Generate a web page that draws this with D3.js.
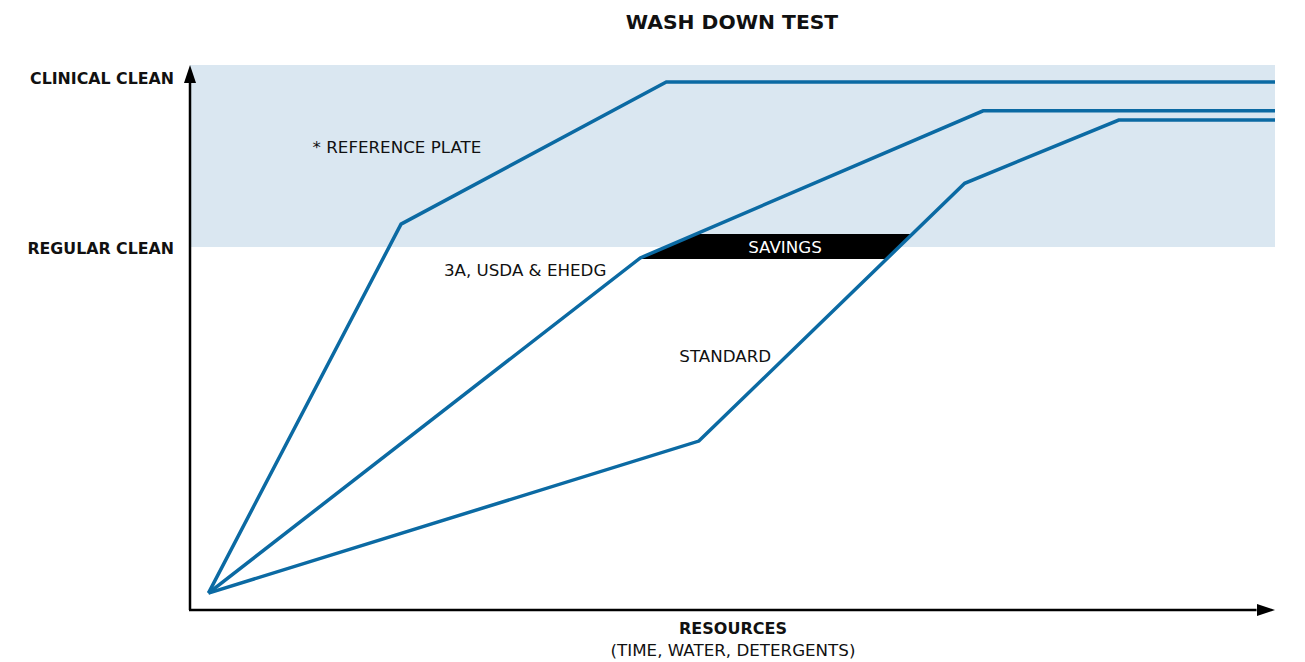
<!DOCTYPE html>
<html>
<head>
<meta charset="utf-8">
<script src="https://cdn.jsdelivr.net/npm/d3@7"></script>
<style>
  body { margin: 0; background: #fff; }
  text { font-family: "DejaVu Sans", sans-serif; }
</style>
</head>
<body>
<div class="canva"></div>
<script>
// curves: x = resources used, y = cleanliness (0-100)
const referencePlate = [[1.7, 3.1], [19.45, 70.8], [43.9, 96.9], [100, 96.9]];
const hygienic3A = [[1.7, 3.1], [41.5, 64.6], [73.1, 91.6], [100, 91.6]];
const standard = [[1.7, 3.1], [46.9, 31.0], [71.4, 78.3], [85.6, 89.9], [100, 89.9]];

const levelLabels = ["CLINICAL CLEAN", "REGULAR CLEAN"];
const levelValues = [97.6, 66.4];
const bandTop = 100;
const savingsBand = [64.4, 69.0];

const width = 1305, height = 662;
const x0 = 190, x1 = 1275, y0 = 610, y1 = 65;

const svg = d3.select(".canva").append("svg")
    .attr("width", width)
    .attr("height", height);

const x = d3.scaleLinear().domain([0, 100]).range([x0, x1]);
const y = d3.scaleLinear().domain([0, 100]).range([y0, y1]);

// blue band between regular and clinical clean
svg.append("rect")
    .attr("x", x(0))
    .attr("y", y(bandTop))
    .attr("width", x(100) - x(0))
    .attr("height", y(66.6) - y(bandTop))
    .attr("fill", "#dae7f1");

// x position on a polyline for a given y
function xAt(pts, v) {
  for (let i = 1; i < pts.length; i++) {
    const a = pts[i - 1], b = pts[i];
    if ((v - a[1]) * (v - b[1]) <= 0 && a[1] !== b[1]) {
      return a[0] + (v - a[1]) * (b[0] - a[0]) / (b[1] - a[1]);
    }
  }
  return null;
}

const savingsPts = [
  [xAt(hygienic3A, savingsBand[1]), savingsBand[1]],
  [xAt(standard, savingsBand[1]), savingsBand[1]],
  [xAt(standard, savingsBand[0]), savingsBand[0]],
  [xAt(hygienic3A, savingsBand[0]), savingsBand[0]]
];

const line = d3.line().x(d => x(d[0])).y(d => y(d[1]));

svg.append("path")
    .attr("d", line(savingsPts) + "Z")
    .attr("fill", "#000");

[referencePlate, hygienic3A, standard].forEach(s => {
  svg.append("path")
      .attr("d", line(s))
      .attr("fill", "none")
      .attr("stroke", "#0b6aa3")
      .attr("stroke-width", 3.5)
      .attr("stroke-linejoin", "miter");
});

// axes with arrows
svg.append("line")
    .attr("x1", x(0)).attr("y1", y(0))
    .attr("x2", x(0)).attr("y2", y(97))
    .attr("stroke", "#000").attr("stroke-width", 2.5);
svg.append("line")
    .attr("x1", x(0) - 1).attr("y1", y(0))
    .attr("x2", x(98.3)).attr("y2", y(0))
    .attr("stroke", "#000").attr("stroke-width", 2.5);
svg.append("path")
    .attr("d", `M${x(0)},${y(100)} L${x(0) + 6},${y(100) + 18} L${x(0) - 6},${y(100) + 18} Z`)
    .attr("fill", "#000");
svg.append("path")
    .attr("d", `M${x(100)},${y(0)} L${x(100) - 18},${y(0) - 6} L${x(100) - 18},${y(0) + 6} Z`)
    .attr("fill", "#000");

// level labels
svg.selectAll(".lvl")
  .data(levelLabels)
  .join("text")
    .attr("class", "lvl")
    .text(d => d)
    .attr("x", 174)
    .attr("y", (d, i) => y(levelValues[i]))
    .attr("dy", "0.35em")
    .attr("text-anchor", "end")
    .attr("font-weight", "bold")
    .attr("font-size", 15.8)
    .attr("fill", "#111");

svg.append("text")
    .text("WASH DOWN TEST")
    .attr("x", 732).attr("y", 29)
    .attr("text-anchor", "middle")
    .attr("font-weight", "bold")
    .attr("font-size", 20.3)
    .attr("fill", "#111");

const notes = [
  ["* REFERENCE PLATE", 11.3, 84.9, "start"],
  ["3A, USDA & EHEDG", 23.4, 62.4, "start"],
  ["STANDARD", 45.1, 46.5, "start"]
];
notes.forEach(n => {
  svg.append("text")
      .text(n[0])
      .attr("x", x(n[1])).attr("y", y(n[2]))
      .attr("dy", "0.35em")
      .attr("text-anchor", n[3])
      .attr("font-size", 16.7)
      .attr("fill", "#111");
});

svg.append("text")
    .text("SAVINGS")
    .attr("x", 785).attr("y", y(66.6))
    .attr("dy", "0.35em")
    .attr("text-anchor", "middle")
    .attr("font-size", 16.7)
    .attr("fill", "#fff");

svg.append("text")
    .text("RESOURCES")
    .attr("x", 733).attr("y", 634)
    .attr("text-anchor", "middle")
    .attr("font-weight", "bold")
    .attr("font-size", 16)
    .attr("fill", "#111");
svg.append("text")
    .text("(TIME, WATER, DETERGENTS)")
    .attr("x", 733).attr("y", 656)
    .attr("text-anchor", "middle")
    .attr("font-size", 16.7)
    .attr("fill", "#111");
</script>
</body>
</html>
